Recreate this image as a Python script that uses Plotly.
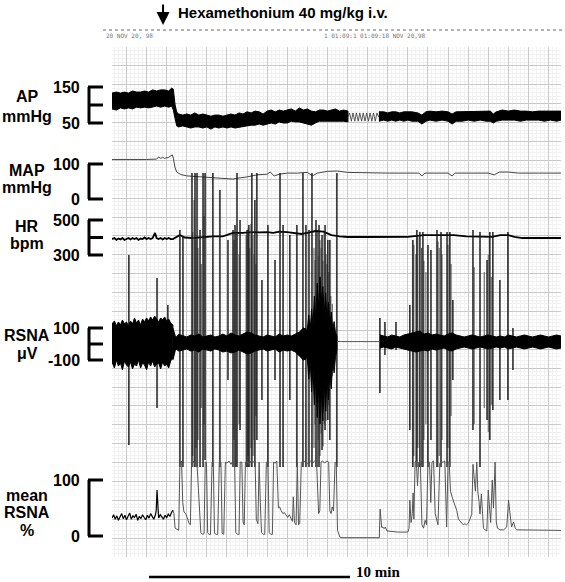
import plotly.graph_objects as go

W, H = 565, 582
GRID_TOP, GRID_BOT = 47, 557      # pixel rows of the chart paper
GRID_L, GRID_R = 112, 561         # pixel columns of the chart paper

# time in minutes, one grid square = 1 min

# AP (mmHg): the pulsatile trace is drawn as an upper/lower envelope
ap_a_t = [-0.72, -0.5, -0.3, -0.1, 0.1, 0.3, 0.5, 0.7, 0.9, 1.1,
          1.3, 1.5, 1.7, 1.9, 2.1, 2.25, 2.33, 2.42, 2.5, 2.6,
          2.8, 3.0, 3.2, 3.4, 3.6, 3.8, 4.0, 4.2, 4.4, 4.6,
          4.8, 5.0, 5.2, 5.4, 5.6, 5.8, 6.0, 6.2, 6.4, 6.6,
          6.8, 7.0, 7.2, 7.4, 7.6, 7.8, 8.0, 8.2, 8.4, 8.6,
          8.8, 9.0, 9.2, 9.4, 9.6, 9.8, 10.0, 10.2, 10.4, 10.6,
          10.8, 11.02]
ap_a_hi = [133, 136, 133, 136, 133, 139, 136, 136, 139, 136,
           142, 139, 142, 142, 139, 147, 144, 100, 80, 75,
           72, 75, 72, 78, 72, 75, 72, 69, 72, 72,
           69, 72, 75, 72, 78, 75, 81, 78, 83, 81,
           75, 83, 86, 81, 86, 83, 86, 89, 83, 92,
           86, 89, 83, 81, 86, 86, 83, 86, 89, 83,
           86, 83]
ap_a_lo = [89, 86, 92, 89, 92, 89, 94, 92, 94, 92,
           94, 97, 94, 97, 94, 97, 86, 62, 42, 39,
           42, 39, 36, 39, 39, 36, 39, 33, 39, 36,
           39, 36, 39, 36, 39, 42, 42, 44, 44, 47,
           44, 47, 50, 47, 53, 50, 50, 55, 53, 53,
           50, 47, 44, 50, 55, 53, 55, 55, 53, 55,
           55, 53]
# calibration zig-zag
ap_zig_t = [11.02, 11.1, 11.19, 11.27, 11.36, 11.44, 11.53, 11.61, 11.7, 11.78,
            11.87, 11.95, 12.04, 12.12, 12.21, 12.29, 12.38, 12.46, 12.56]
ap_zig_v = [66, 78, 55, 78, 55, 78, 55, 78, 55, 78,
            55, 78, 55, 78, 55, 78, 55, 78, 66]
ap_c_t = [12.56, 12.8, 13.0, 13.2, 13.4, 13.6, 13.8, 14.0, 14.2, 14.5,
          14.7, 14.9, 15.1, 15.4, 15.7, 16.0, 16.2, 16.4, 16.7, 17.0,
          17.3, 17.6, 17.9, 18.1, 18.25, 18.4, 18.7, 19.0, 19.3, 19.6,
          19.9, 20.2, 20.5, 20.8, 21.1, 21.4, 21.62]
ap_c_hi = [81, 81, 78, 81, 81, 78, 81, 81, 81, 78,
           72, 81, 83, 81, 83, 81, 75, 81, 81, 81,
           83, 81, 81, 83, 75, 81, 86, 83, 86, 83,
           83, 81, 83, 83, 81, 83, 83]
ap_c_lo = [55, 58, 55, 58, 55, 58, 55, 58, 55, 55,
           47, 55, 58, 55, 58, 55, 47, 55, 55, 58,
           55, 58, 55, 55, 50, 55, 58, 58, 58, 55,
           58, 58, 58, 55, 58, 55, 58]

# MAP (mmHg)
map_t = [-0.72, 0.0, 0.5, 1.0, 1.5, 1.6, 1.7, 1.8, 1.9, 2.0,
         2.1, 2.2, 2.28, 2.33, 2.42, 2.5, 2.7, 3.0, 3.5, 4.0,
         4.5, 5.0, 5.3, 5.6, 6.0, 6.5, 7.0, 7.15, 7.35, 7.6,
         8.0, 8.5, 9.0, 9.25, 9.5, 10.0, 10.5, 11.0, 12.0, 13.0,
         14.0, 14.55, 14.7, 14.85, 15.5, 16.0, 16.2, 16.35, 17.0, 18.0,
         18.3, 18.55, 19.0, 19.5, 20.5, 21.62]
map_v = [113, 113, 111, 113, 114, 120, 116, 119, 116, 117,
         119, 123, 126, 117, 89, 77, 70, 66, 64, 63,
         61, 60, 57, 60, 63, 69, 71, 77, 66, 71,
         74, 74, 76, 66, 74, 79, 80, 76, 74, 74,
         74, 74, 66, 74, 74, 74, 66, 74, 74, 74,
         69, 77, 77, 74, 74, 74]

# HR (bpm)
hr_t = [-0.72, -0.6, -0.5, -0.4, -0.3, -0.2, -0.1, 0.0, 0.1, 0.2,
        0.3, 0.4, 0.5, 0.6, 0.7, 0.8, 0.9, 1.0, 1.1, 1.2,
        1.3, 1.42, 1.5, 1.6, 1.7, 1.8, 1.9, 2.0, 2.1, 2.2,
        2.31, 2.66, 2.9, 3.3, 3.8, 4.3, 4.8, 5.3, 5.8, 6.2,
        6.6, 7.0, 7.3, 7.6, 8.0, 8.3, 8.7, 9.0, 9.4, 9.8,
        10.2, 10.6, 11.0, 12.0, 13.0, 14.0, 14.8, 15.5, 16.3, 16.9,
        17.5, 18.2, 18.6, 19.0, 19.3, 19.7, 20.5, 21.62]
hr_v = [391, 397, 386, 394, 389, 397, 386, 391, 397, 389,
        397, 391, 397, 386, 394, 391, 400, 391, 397, 391,
        397, 426, 397, 391, 397, 389, 397, 391, 397, 391,
        391, 414, 400, 397, 403, 406, 406, 426, 426, 431,
        429, 431, 426, 434, 431, 426, 420, 426, 437, 434,
        414, 406, 403, 403, 404, 404, 414, 414, 414, 406,
        404, 404, 414, 414, 403, 397, 397, 397]

# RSNA (uV): noise envelope in three parts and the large discharges
rs_pre_t = [-0.72, -0.6, -0.5, -0.4, -0.3, -0.2, -0.1, 0.0, 0.1, 0.2,
            0.3, 0.4, 0.5, 0.6, 0.7, 0.8, 0.9, 1.0, 1.1, 1.2,
            1.3, 1.4, 1.5, 1.6, 1.7, 1.8, 1.9, 2.0, 2.1, 2.2, 2.31]
rs_pre_hi = [125, 144, 113, 138, 119, 150, 125, 138, 113, 144,
             125, 163, 131, 150, 119, 156, 138, 163, 144, 169,
             150, 175, 156, 138, 163, 150, 169, 144, 156, 131, 119]
rs_pre_lo = [-112, -150, -100, -138, -119, -162, -106, -131, -144, -112,
             -156, -125, -138, -100, -150, -119, -131, -162, -112, -138,
             -106, -144, -125, -119, -156, -112, -138, -125, -150, -106, -88]
rs_mid_t = [2.31, 2.45, 2.6, 2.8, 3.0, 3.2, 3.4, 3.6, 3.8, 4.0,
            4.2, 4.4, 4.6, 4.8, 5.0, 5.2, 5.4, 5.6, 5.8, 6.0,
            6.2, 6.4, 6.6, 6.8, 7.0, 7.2, 7.4, 7.6, 7.8, 8.0,
            8.2, 8.4, 8.6, 8.8, 9.0, 9.07, 9.14, 9.21, 9.28, 9.35,
            9.42, 9.49, 9.56, 9.63, 9.70, 9.77, 9.84, 9.91, 9.98, 10.05,
            10.12, 10.19, 10.26, 10.33, 10.40, 10.47]
rs_mid_hi = [100, 40, 60, 50, 44, 56, 50, 62, 44, 50,
             56, 44, 50, 62, 50, 69, 56, 50, 62, 75,
             69, 56, 50, 44, 56, 50, 44, 62, 50, 56,
             50, 62, 75, 100, 90, 180, 80, 220, 110, 300,
             150, 380, 200, 420, 260, 360, 180, 320, 150, 260,
             110, 200, 90, 140, 70, 50]
rs_mid_lo = [-100, -30, -44, -38, -31, -44, -38, -50, -31, -38,
             -44, -31, -38, -50, -44, -56, -50, -38, -50, -62,
             -56, -44, -38, -31, -44, -38, -31, -50, -38, -44,
             -38, -50, -75, -100, -90, -220, -100, -300, -150, -380,
             -200, -460, -260, -500, -300, -480, -240, -420, -200, -350,
             -150, -280, -110, -180, -80, -40]
rs_gap_t = [10.47, 12.61]
rs_gap_v = [15, 15]
rs_post_t = [12.61, 12.8, 13.0, 13.2, 13.4, 13.6, 13.8, 14.0, 14.2, 14.4,
             14.6, 14.8, 15.0, 15.2, 15.4, 15.6, 15.8, 16.0, 16.2, 16.4,
             16.6, 16.8, 17.0, 17.2, 17.4, 17.6, 17.8, 18.0, 18.2, 18.4,
             18.6, 18.8, 19.0, 19.2, 19.4, 19.6, 19.8, 20.0, 20.2, 20.4,
             20.6, 20.8, 21.0, 21.2, 21.4, 21.62]
rs_post_hi = [56, 50, 44, 56, 50, 44, 56, 62, 69, 75,
              81, 62, 69, 56, 62, 56, 50, 62, 69, 56,
              50, 44, 50, 56, 50, 44, 50, 56, 50, 44,
              50, 44, 56, 50, 44, 50, 56, 50, 44, 50,
              56, 50, 44, 50, 56, 50]
rs_post_lo = [-25, -19, -25, -31, -19, -25, -31, -38, -44, -50,
              -44, -38, -44, -31, -38, -31, -25, -38, -44, -31,
              -25, -19, -25, -31, -25, -19, -25, -31, -25, -19,
              -25, -19, -31, -25, -19, -25, -31, -25, -19, -25,
              -31, -25, -19, -25, -31, -25]
# big discharges (black)
spk_t = [0.12, 1.52, 2.06, 2.66, 2.81, 3.26, 3.41, 3.51, 3.66, 3.81,
         3.91, 4.30, 4.65, 5.05, 5.30, 5.40, 5.50, 5.65, 6.00, 6.09,
         6.24, 6.39, 6.49, 6.74, 7.04, 7.39, 7.64, 7.79, 8.13, 8.48,
         8.78, 8.93, 9.08, 9.23, 9.43, 9.58, 9.73, 9.88, 10.02, 10.12,
         10.47, 12.61, 12.86, 13.41, 14.10, 14.25, 14.45, 14.60, 14.75, 15.00,
         15.15, 15.45, 15.65, 15.95, 16.09, 16.24, 17.24, 17.59, 17.94, 18.08,
         18.23, 18.58, 18.98, 19.23]
spk_hi = [556, 413, 244, 713, 675, 1069, 1069, 1069, 713, 1069,
          1069, 1069, 963, 650, 713, 744, 1069, 775, 713, 744,
          1069, 900, 1069, 400, 744, 525, 1069, 744, 681, 744,
          1069, 744, 713, 1069, 775, 744, 681, 744, 650, 650,
          1069, 163, 138, 138, 244, 650, 713, 700, 700, 619,
          588, 713, 700, 700, 700, 275, 713, 700, 525, 700,
          700, 400, 700, 100]
spk_lo = [-631, -400, -100, -769, -769, -769, -769, -769, -769, -769,
          -725, -769, -769, -225, -769, -769, -769, -538, -769, -769,
          -769, -769, -600, -350, -769, -225, -769, -769, -350, -769,
          -769, -769, -769, -769, -769, -769, -663, -538, -475, -600,
          -769, -306, -69, -38, -538, -769, -769, -769, -769, -769,
          -600, -769, -769, -769, -769, -225, -538, -769, -475, -600,
          -413, -350, -350, -163]
# fainter discharges inside the bursts (grey)
spk2_t = [3.30, 3.36, 3.46, 3.56, 3.72, 3.86, 5.35, 5.45, 5.60, 5.95,
          6.05, 6.14, 6.19, 6.30, 6.34, 6.44, 9.33, 9.38, 9.50, 9.53,
          9.63, 9.68, 9.78, 9.83, 9.93, 9.97, 10.07, 10.17, 10.24, 14.30,
          14.40, 14.50, 14.68, 14.80, 14.90, 15.50, 15.56, 15.70, 16.00, 16.15,
          17.30, 17.80, 18.00, 18.15]
spk2_hi = [700, 900, 650, 600, 500, 800, 650, 700, 560, 680,
           720, 600, 750, 680, 560, 500, 600, 525, 700, 550,
           650, 600, 520, 700, 560, 500, 450, 300, 250, 620,
           560, 680, 600, 520, 450, 640, 600, 560, 620, 500,
           480, 450, 560, 420]
spk2_lo = [-700, -769, -650, -600, -400, -500, -600, -769, -500, -769,
           -700, -769, -650, -700, -600, -450, -650, -500, -769, -600,
           -700, -560, -640, -500, -480, -420, -380, -260, -200, -700,
           -769, -650, -769, -600, -500, -769, -700, -600, -650, -450,
           -500, -400, -550, -380]

# mean RSNA (%)
mr_pre_t = [-0.72, -0.64, -0.56, -0.48, -0.40, -0.32, -0.24, -0.16, -0.08, 0.0,
            0.08, 0.16, 0.24, 0.32, 0.40, 0.48, 0.56, 0.64, 0.72, 0.80,
            0.88, 0.96, 1.04, 1.12, 1.20, 1.28, 1.36, 1.44, 1.48, 1.52,
            1.56, 1.60, 1.68, 1.76, 1.84, 1.92, 2.00, 2.08, 2.16, 2.24, 2.31]
mr_pre_v = [32, 38, 30, 36, 28, 35, 40, 31, 37, 29,
            34, 41, 30, 36, 33, 39, 28, 35, 31, 38,
            33, 29, 37, 32, 40, 34, 30, 38, 45, 82,
            40, 32, 38, 34, 30, 37, 33, 39, 35, 42, 46]
mr_t = [2.31, 2.36, 2.42, 2.52, 2.60, 2.66, 2.74, 2.80, 2.86, 2.95,
        3.05, 3.12, 3.18, 3.24, 3.32, 3.40, 3.50, 3.56, 3.62, 3.70,
        3.78, 3.86, 3.92, 3.98, 4.04, 4.10, 4.18, 4.26, 4.32, 4.38,
        4.46, 4.54, 4.62, 4.70, 4.76, 4.84, 4.92, 5.00, 5.10, 5.20,
        5.30, 5.38, 5.44, 5.52, 5.60, 5.66, 5.74, 5.80, 5.86, 5.92,
        6.00, 6.10, 6.20, 6.30, 6.40, 6.46, 6.54, 6.60, 6.66, 6.72,
        6.80, 6.88, 6.96, 7.04, 7.10, 7.18, 7.26, 7.32, 7.40, 7.48,
        7.56, 7.62, 7.70, 7.78, 7.86, 7.94, 8.02, 8.10, 8.18, 8.26,
        8.30, 8.36, 8.44, 8.50, 8.56, 8.62, 8.70, 8.78, 8.86, 8.96,
        9.06, 9.16, 9.26, 9.36, 9.46, 9.52, 9.56, 9.62, 9.68, 9.76,
        9.86, 9.96, 10.06, 10.12, 10.18, 10.24, 10.30, 10.38, 10.44, 10.50,
        10.56, 10.62, 10.72, 12.58, 12.62, 12.66, 12.70, 12.76, 12.82, 12.88,
        12.96, 13.5, 14.0, 14.06, 14.10, 14.16, 14.22, 14.26, 14.30, 14.36,
        14.42, 14.48, 14.54, 14.62, 14.70, 14.78, 14.86, 14.93, 15.0, 15.08,
        15.14, 15.20, 15.28, 15.36, 15.43, 15.50, 15.59, 15.68, 15.76, 15.84,
        15.93, 16.0, 16.06, 16.12, 16.20, 16.26, 16.34, 16.43, 16.52, 16.59,
        16.68, 16.76, 16.84, 16.92, 17.01, 17.10, 17.18, 17.24, 17.30, 17.36,
        17.43, 17.48, 17.54, 17.59, 17.66, 17.72, 17.76, 17.84, 17.93, 18.00,
        18.06, 18.12, 18.20, 18.26, 18.34, 18.40, 18.46, 18.59, 18.76, 18.92,
        19.01, 19.08, 19.16, 19.26, 19.34, 19.42, 19.59, 20.0, 20.5, 21.0,
        21.2, 21.62]
mr_v = [46, 40, 14, 12, 10, 130, 134, 60, 43, 40,
        30, 22, 20, 130, 134, 128, 134, 90, 40, 6,
        3, 4, 132, 132, 6, 3, 3, 132, 132, 5,
        3, 3, 132, 132, 5, 3, 132, 130, 134, 128,
        134, 132, 6, 3, 3, 132, 132, 25, 20, 132,
        134, 128, 134, 132, 134, 30, 22, 132, 60, 6,
        3, 3, 132, 132, 6, 3, 3, 132, 130, 134,
        50, 52, 45, 40, 42, 36, 33, 38, 30, 26,
        70, 24, 20, 132, 20, 22, 132, 130, 134, 128,
        132, 134, 130, 134, 132, 70, 40, 45, 132, 134,
        130, 134, 132, 45, 40, 52, 45, 132, 130, 10,
        2, -2, -3, -3, 48, 20, 15, 16, 13, 16,
        9, 7, 7, 14, 64, 24, 40, 77, 30, 132,
        134, 90, 132, 134, 20, 14, 28, 20, 132, 132,
        60, 132, 134, 40, 30, 20, 130, 132, 132, 134,
        16, 132, 132, 80, 70, 62, 55, 46, 30, 27,
        23, 20, 22, 20, 23, 30, 39, 128, 100, 80,
        132, 80, 62, 39, 75, 40, 14, 11, 9, 82,
        40, 24, 100, 50, 132, 25, 14, 11, 11, 16,
        64, 43, 16, 25, 14, 11, 11, 10, 11, 10,
        11, 10]

drug_t = 1.82          # hexamethonium injection
bar_t = [1.12, 11.12]  # 10 min calibration bar


def pyp(p):
    return 1 - p / H


def pxp(p):
    return p / W


def span(v_top, p_top, v_bot, p_bot):
    k = (v_top - v_bot) / (p_bot - p_top)
    return [v_bot - (GRID_BOT - p_bot) * k, v_top + (p_top - GRID_TOP) * k]


def band(t, hi, lo):
    return list(t) + list(t)[::-1], list(hi) + list(lo)[::-1]


def spikes(t, hi, lo):
    xs, ys = [], []
    for a, b, c in zip(t, hi, lo):
        xs += [a, a, None]
        ys += [b, c, None]
    return xs, ys


FONT = "Liberation Sans, Arial, sans-serif"

# channel: axis, label lines, (top value, top px, bottom value, bottom px), middle tick, label rows
channels = [
    ("y2", ["AP", "mmHg"], (150, 87, 50, 123), True, [97, 117]),
    ("y3", ["MAP", "mmHg"], (100, 164, 0, 199), False, [170, 188]),
    ("y4", ["HR", "bpm"], (500, 220, 300, 255), True, [227, 243]),
    ("y5", ["RSNA", "\u03bcV"], (100, 328, -100, 360), True, [335, 353]),
    ("y6", ["mean", "RSNA", "%"], (100, 480, 0, 536), False, [495, 512, 530]),
]

fig = go.Figure()
fig.add_trace(go.Scatter(x=[], y=[], xaxis="x", yaxis="y"))

# AP
for t, hi, lo in [(ap_a_t, ap_a_hi, ap_a_lo), (ap_c_t, ap_c_hi, ap_c_lo)]:
    bx, by = band(t, hi, lo)
    fig.add_trace(go.Scatter(x=bx, y=by, yaxis="y2", mode="lines", fill="toself",
                             fillcolor="black", line=dict(color="black", width=1)))
fig.add_trace(go.Scatter(x=ap_zig_t, y=ap_zig_v, yaxis="y2", mode="lines",
                         line=dict(color="#333", width=0.8)))

# MAP
fig.add_trace(go.Scatter(x=map_t, y=map_v, yaxis="y3", mode="lines",
                         line=dict(color="#444", width=1)))

# HR
fig.add_trace(go.Scatter(x=hr_t, y=hr_v, yaxis="y4", mode="lines",
                         line=dict(color="black", width=1.8)))

# RSNA
sx, sy = spikes(spk2_t, spk2_hi, spk2_lo)
fig.add_trace(go.Scatter(x=sx, y=sy, yaxis="y5", mode="lines",
                         line=dict(color="#555", width=1)))
sx, sy = spikes(spk_t, spk_hi, spk_lo)
fig.add_trace(go.Scatter(x=sx, y=sy, yaxis="y5", mode="lines",
                         line=dict(color="#111", width=1.4)))
for t, hi, lo in [(rs_pre_t, rs_pre_hi, rs_pre_lo), (rs_mid_t, rs_mid_hi, rs_mid_lo),
                  (rs_post_t, rs_post_hi, rs_post_lo)]:
    bx, by = band(t, hi, lo)
    fig.add_trace(go.Scatter(x=bx, y=by, yaxis="y5", mode="lines", fill="toself",
                             fillcolor="black", line=dict(color="black", width=1)))
fig.add_trace(go.Scatter(x=rs_gap_t, y=rs_gap_v, yaxis="y5", mode="lines",
                         line=dict(color="#555", width=1)))

# mean RSNA
fig.add_trace(go.Scatter(x=mr_t, y=mr_v, yaxis="y6", mode="lines",
                         line=dict(color="#555", width=1)))
fig.add_trace(go.Scatter(x=mr_pre_t, y=mr_pre_v, yaxis="y6", mode="lines",
                         line=dict(color="black", width=1.2)))

grid = dict(showgrid=True, gridcolor="#c9c9c9", gridwidth=1, zeroline=False,
            showticklabels=False, ticks="", showline=False,
            minor=dict(dtick=0.2, showgrid=True, gridcolor="#f1f1f1", gridwidth=1))

layout = dict(
    width=W, height=H, margin=dict(l=0, r=0, t=0, b=0),
    paper_bgcolor="white", plot_bgcolor="white", showlegend=False, hovermode=False,
    xaxis=dict(domain=[pxp(GRID_L), pxp(GRID_R)], range=[-0.72, 21.62],
               tick0=0, dtick=1, **grid),
    yaxis=dict(domain=[pyp(GRID_BOT), pyp(GRID_TOP)], range=[-27, 0],
               tick0=0, dtick=1, **grid),
)

shapes, annos = [], []
for ax, lines, (vt, pt, vb, pb), mid, rows in channels:
    layout["yaxis" + ax[1:]] = dict(overlaying="y", range=span(vt, pt, vb, pb),
                                     visible=False, fixedrange=True)
    blk = dict(color="black", width=3)
    shapes.append(dict(type="line", xref="paper", yref=ax, x0=pxp(89), x1=pxp(89),
                       y0=vt, y1=vb, line=blk))
    tick_vals = [vt, vb] + ([(vt + vb) / 2] if mid else [])
    for v in tick_vals:
        shapes.append(dict(type="line", xref="paper", yref=ax, x0=pxp(88), x1=pxp(103),
                           y0=v, y1=v, line=blk))
    for v in (vt, vb):
        annos.append(dict(xref="paper", yref=ax, x=pxp(82), y=v, text=str(v),
                          showarrow=False, xanchor="right", yanchor="middle",
                          font=dict(family=FONT, size=16, color="black", weight="bold")))
    for txt, r in zip(lines, rows):
        annos.append(dict(xref="paper", yref="paper", x=pxp(27), y=pyp(r), text=txt,
                          showarrow=False, xanchor="center", yanchor="middle",
                          font=dict(family=FONT, size=16, color="black", weight="bold")))

# header: drug injection
annos.append(dict(xref="x", yref="paper", x=drug_t, y=pyp(25), ax=0, ay=-22, text="",
                  showarrow=True, arrowhead=2, arrowsize=1.3, arrowwidth=2,
                  arrowcolor="black"))
annos.append(dict(xref="paper", yref="paper", x=pxp(176), y=pyp(12),
                  text="Hexamethonium 40 mg/kg i.v.", showarrow=False,
                  xanchor="left", yanchor="middle",
                  font=dict(family=FONT, size=15, color="black", weight="bold")))

# recorder time strip
shapes.append(dict(type="line", xref="paper", yref="paper", x0=pxp(103), x1=1,
                   y0=pyp(30), y1=pyp(30), line=dict(color="#9a9a9a", width=1.5, dash="dot")))
for txt, x0 in [("20 NOV 20, 98", 104), ("1 01:09:1 01:09:18 NOV 20,98", 322)]:
    annos.append(dict(xref="paper", yref="paper", x=pxp(x0), y=pyp(35), text=txt,
                      showarrow=False, xanchor="left", yanchor="middle",
                      font=dict(family="DejaVu Sans Mono", size=6, color="#777")))

# time calibration bar
shapes.append(dict(type="line", xref="x", yref="paper", x0=bar_t[0], x1=bar_t[1],
                   y0=pyp(577), y1=pyp(577), line=dict(color="black", width=2.5)))
annos.append(dict(xref="paper", yref="paper", x=pxp(354), y=pyp(572), text="10 min",
                  showarrow=False, xanchor="left", yanchor="middle",
                  font=dict(family="Liberation Serif, Times New Roman, serif", size=15,
                            color="black", weight="bold")))

layout["shapes"] = shapes
layout["annotations"] = annos
fig.update_layout(**layout)

# the page's default body margin would push the 565x582 figure out of the window
fig.write_html("out.html", config={"displayModeBar": False},
               post_script="document.body.style.margin='0px';")
